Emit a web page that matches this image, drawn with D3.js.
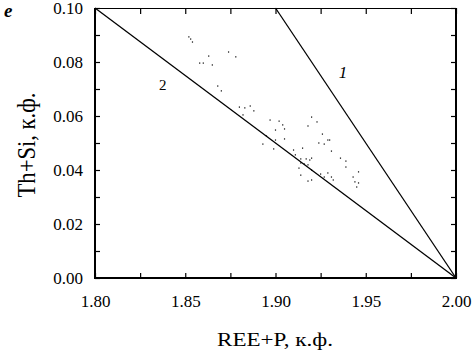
<!DOCTYPE html>
<html>
<head>
<meta charset="utf-8">
<script src="https://cdn.jsdelivr.net/npm/d3@7"></script>
<style>
    body { margin: 0; background: #fff; }
    .axis path { display: none; }
    .axis line { stroke: #000; stroke-width: 1.2; }
</style>
</head>
<body>
<div id="chart"></div>
<script>
let reeP = [1.852, 1.853, 1.854, 1.863, 1.858, 1.860, 1.865, 1.874, 1.878, 1.868,
    1.870, 1.880, 1.883, 1.886, 1.888, 1.882, 1.897, 1.902, 1.904, 1.905,
    1.900, 1.900, 1.895, 1.893, 1.899, 1.905, 1.910, 1.915, 1.911, 1.914,
    1.917, 1.920, 1.918, 1.913, 1.920, 1.914, 1.918, 1.920, 1.920, 1.923,
    1.918, 1.926, 1.929, 1.930, 1.927, 1.924, 1.931, 1.936, 1.939, 1.939,
    1.946, 1.943, 1.944, 1.946, 1.945, 1.925, 1.929, 1.931, 1.932, 1.927,
    1.914, 1.916, 1.919];
let thSi = [0.0893, 0.0885, 0.0874, 0.0822, 0.0796, 0.0796, 0.0789, 0.0837, 0.0819, 0.0711,
    0.0693, 0.0633, 0.0630, 0.0637, 0.0619, 0.0604, 0.0585, 0.0581, 0.0567, 0.0552,
    0.0548, 0.0511, 0.0526, 0.0496, 0.0478, 0.0515, 0.0474, 0.0481, 0.0456, 0.0441,
    0.0441, 0.0444, 0.0419, 0.0407, 0.0400, 0.0381, 0.0359, 0.0363, 0.0596, 0.0578,
    0.0563, 0.0533, 0.0511, 0.0511, 0.0496, 0.0500, 0.0470, 0.0444, 0.0433, 0.0411,
    0.0393, 0.0374, 0.0356, 0.0352, 0.0337, 0.0385, 0.0389, 0.0374, 0.0363, 0.0374,
    0.0426, 0.0422, 0.0437];

// reference lines: 1 and 2
let lineLabels = ["1", "2"];
let lineStarts = [[1.90, 0.10], [1.80, 0.10]];
let lineEnds = [[2.00, 0.00], [2.00, 0.00]];

let xTicks = [1.80, 1.825, 1.85, 1.875, 1.90, 1.925, 1.95, 1.975, 2.00];
let xLabelled = [1.80, 1.85, 1.90, 1.95, 2.00];
let yTicks = [0.00, 0.01, 0.02, 0.03, 0.04, 0.05, 0.06, 0.07, 0.08, 0.09, 0.10];
let yLabelled = [0.00, 0.02, 0.04, 0.06, 0.08, 0.10];

const SERIF = "'Liberation Serif', 'DejaVu Serif', serif";

class ScatterPlot {
    constructor(parentElement){
        this.parentElement = parentElement;
        this.initVis();
    }

    initVis(){
        let vis = this;

        vis.margin = {top: 8, right: 18, bottom: 75, left: 95};
        vis.width = 474 - vis.margin.left - vis.margin.right;
        vis.height = 353 - vis.margin.top - vis.margin.bottom;

        vis.svg = d3.select("#" + vis.parentElement).append("svg")
            .attr("width", 474)
            .attr("height", 353)
            .style("font-family", SERIF);

        vis.g = vis.svg.append("g")
            .attr("transform", `translate(${vis.margin.left},${vis.margin.top})`);

        vis.x = d3.scaleLinear().domain([1.80, 2.00]).range([0, vis.width]);
        vis.y = d3.scaleLinear().domain([0, 0.10]).range([vis.height, 0]);

        vis.updateVis();
    }

    updateVis(){
        let vis = this;

        // bottom axis, ticks point inward
        vis.g.append("g")
            .attr("class", "axis")
            .attr("transform", `translate(0,${vis.height})`)
            .call(d3.axisBottom(vis.x).tickValues(xTicks).tickSizeInner(-5).tickSizeOuter(0).tickPadding(17)
                .tickFormat(d => xLabelled.some(v => Math.abs(v - d) < 1e-9) ? d3.format(".2f")(d) : ""))
            .selectAll("text")
            .attr("fill", "#000")
            .style("font-family", SERIF)
            .style("font-size", "17px");

        // top axis, ticks only
        vis.g.append("g")
            .attr("class", "axis")
            .call(d3.axisTop(vis.x).tickValues(xTicks).tickSizeInner(-6).tickSizeOuter(0).tickFormat(""));

        // left axis
        vis.g.append("g")
            .attr("class", "axis")
            .call(d3.axisLeft(vis.y).tickValues(yTicks).tickSizeInner(-5).tickSizeOuter(0).tickPadding(12)
                .tickFormat(d => yLabelled.some(v => Math.abs(v - d) < 1e-9) ? d3.format(".2f")(d) : ""))
            .selectAll("text")
            .attr("fill", "#000")
            .style("font-family", SERIF)
            .style("font-size", "17px");

        // right axis, ticks only
        vis.g.append("g")
            .attr("class", "axis")
            .attr("transform", `translate(${vis.width},0)`)
            .call(d3.axisRight(vis.y).tickValues(yTicks).tickSizeInner(-5).tickSizeOuter(0).tickFormat(""));

        // frame
        vis.g.append("line").attr("x1", 0).attr("x2", 0).attr("y1", 0).attr("y2", vis.height)
            .attr("stroke", "#000").attr("stroke-width", 2);
        vis.g.append("line").attr("x1", -1).attr("x2", vis.width + 1).attr("y1", vis.height).attr("y2", vis.height)
            .attr("stroke", "#000").attr("stroke-width", 2);
        vis.g.append("line").attr("x1", vis.width).attr("x2", vis.width).attr("y1", 0).attr("y2", vis.height)
            .attr("stroke", "#000").attr("stroke-width", 2);
        vis.g.append("line").attr("x1", 0).attr("x2", vis.width).attr("y1", 0.5).attr("y2", 0.5)
            .attr("stroke", "#000").attr("stroke-width", 1);

        // reference lines
        vis.g.selectAll(".ref-line")
            .data(lineStarts)
            .enter()
            .append("line")
            .attr("class", "ref-line")
            .attr("x1", d => vis.x(d[0]))
            .attr("y1", d => vis.y(d[1]))
            .attr("x2", (d, i) => vis.x(lineEnds[i][0]))
            .attr("y2", (d, i) => vis.y(lineEnds[i][1]))
            .attr("stroke", "#000")
            .attr("stroke-width", 1.3);

        // line labels
        vis.g.append("text")
            .text(lineLabels[0])
            .style("font-size", "17px")
            .style("font-style", "italic")
            .attr("x", vis.x(1.935))
            .attr("y", vis.y(0.074));
        vis.g.append("text")
            .text(lineLabels[1])
            .style("font-size", "15px")
            .attr("x", vis.x(1.8355))
            .attr("y", vis.y(0.0695));

        // data points
        vis.g.selectAll(".dot")
            .data(reeP)
            .enter()
            .append("rect")
            .attr("class", "dot")
            .attr("x", d => vis.x(d) - 0.6)
            .attr("y", (d, i) => vis.y(thSi[i]) - 0.6)
            .attr("width", 1.2)
            .attr("height", 1.2)
            .attr("fill", "#000");

        // axis titles
        vis.svg.append("text")
            .text("REE+P, к.ф.")
            .attr("text-anchor", "middle")
            .attr("x", 275)
            .attr("y", 346)
            .attr("textLength", 116)
            .attr("lengthAdjust", "spacingAndGlyphs")
            .style("font-size", "19px");

        vis.svg.append("text")
            .text("Th+Si, к.ф.")
            .attr("text-anchor", "middle")
            .attr("transform", "translate(35,145) rotate(-90) scale(1,1.3)")
            .attr("textLength", 105)
            .attr("lengthAdjust", "spacingAndGlyphs")
            .style("font-size", "19px");

        // panel letter
        vis.svg.append("text")
            .text("e")
            .attr("x", 4)
            .attr("y", 17)
            .style("font-size", "19px")
            .style("font-weight", "bold")
            .style("font-style", "italic");
    }
}

new ScatterPlot("chart");
</script>
</body>
</html>
